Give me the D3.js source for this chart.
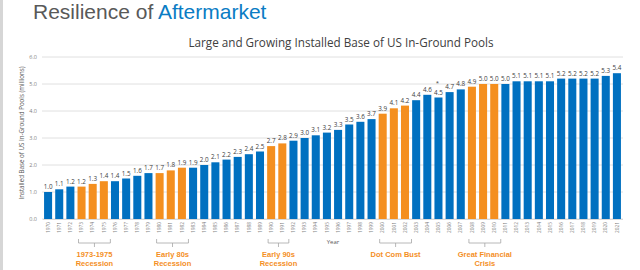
<!DOCTYPE html>
<html>
<head>
<meta charset="utf-8">
<script src="https://cdn.jsdelivr.net/npm/d3@7"></script>
<style>
  body { margin: 0; background: #fff; }
  svg { display: block; }
</style>
</head>
<body>
<script>
// Datos: base instalada de piscinas (millones)
const years = d3.range(1970, 2022).map(String);
const pools = [1.0, 1.1, 1.2, 1.2, 1.3, 1.4, 1.4, 1.5, 1.6, 1.7, 1.7, 1.8, 1.9, 1.9, 2.0, 2.1, 2.2, 2.3, 2.4, 2.5,
  2.7, 2.8, 2.9, 3.0, 3.1, 3.2, 3.3, 3.5, 3.6, 3.7, 3.9, 4.1, 4.2, 4.4, 4.6, 4.5, 4.7, 4.8, 4.9, 5.0,
  5.0, 5.0, 5.1, 5.1, 5.1, 5.1, 5.2, 5.2, 5.2, 5.2, 5.3, 5.4];
const recessionYears = ["1973", "1974", "1975", "1980", "1981", "1982", "1990", "1991", "2000", "2001", "2002", "2008", "2009", "2010"];
const recessions = [
  { from: "1973", to: "1975", lines: ["1973-1975", "Recession"] },
  { from: "1980", to: "1982", lines: ["Early 80s", "Recession"] },
  { from: "1990", to: "1991", lines: ["Early 90s", "Recession"] },
  { from: "2000", to: "2002", lines: ["Dot Com Bust"] },
  { from: "2008", to: "2010", lines: ["Great Financial", "Crisis"] },
];
const yTicks = [0, 1, 2, 3, 4, 5, 6];
const starYear = "2005";

const data = years.map((y, i) => ({ year: y, value: pools[i] }));

const width = 640;
const height = 270;
const blue = "#0070c0";
const orange = "#f48f1f";

const svg = d3.select("body").append("svg").attr("width", width).attr("height", height);

// franja gris a la izquierda
svg.append("rect").attr("x", 0).attr("y", 0).attr("width", 3).attr("height", height).attr("fill", "#d6d6d6");

// Título
const title = svg.append("text").attr("x", 33).attr("y", 19)
  .style("font-family", "'Liberation Sans', Arial, sans-serif").style("font-size", "21px");
title.append("tspan").attr("fill", "#595959").text("Resilience of ");
title.append("tspan").attr("fill", "#0a7cc4").text("Aftermarket");

svg.append("text").attr("x", 341).attr("y", 47).attr("text-anchor", "middle")
  .style("font-family", "'Open Sans', sans-serif").style("font-size", "11.7px").attr("fill", "#404040")
  .text("Large and Growing Installed Base of US In-Ground Pools");

const x = d3.scaleBand().domain(years).range([42.5, 622.5]).paddingInner(0.28).paddingOuter(0.14);
const y = d3.scaleLinear().domain([0, 6]).range([219, 57]);

// rejilla
svg.append("g").selectAll("line").data(yTicks).join("line")
  .attr("x1", 42).attr("x2", 623)
  .attr("y1", (d) => y(d)).attr("y2", (d) => y(d))
  .attr("stroke", "#e0e0e0").attr("stroke-width", 1);

const yAxis = svg.append("g").attr("transform", "translate(42,0)")
  .call(d3.axisLeft(y).tickValues(yTicks).tickFormat(d3.format(".1f")).tickSize(0).tickPadding(5));
yAxis.select(".domain").remove();
yAxis.selectAll("text").style("font-family", "'Open Sans', sans-serif").style("font-size", "5.5px").attr("fill", "#7f7f7f");

svg.append("text").attr("transform", "translate(24,133) rotate(-90)").attr("text-anchor", "middle")
  .style("font-family", "'Open Sans', sans-serif").style("font-size", "6.2px").attr("fill", "#595959")
  .text("Installed Base of US In-Ground Pools (millions)");

// barras
svg.append("g").selectAll("rect").data(data).join("rect")
  .attr("x", (d) => x(d.year))
  .attr("width", x.bandwidth())
  .attr("y", (d) => y(d.value))
  .attr("height", (d) => y(0) - y(d.value))
  .attr("fill", (d) => (recessionYears.includes(d.year) ? orange : blue));

// etiquetas de datos
svg.append("g").selectAll("text").data(data).join("text")
  .attr("x", (d) => x(d.year) + x.bandwidth() / 2)
  .attr("y", (d) => y(d.value) - 3)
  .attr("text-anchor", "middle")
  .style("font-family", "'Open Sans', sans-serif").style("font-size", "6.3px").attr("fill", "#404040")
  .text((d) => d.value.toFixed(1));

svg.append("text")
  .attr("x", x(starYear) + x.bandwidth() / 2 - 1).attr("y", y(pools[years.indexOf(starYear)]) - 12.5)
  .attr("text-anchor", "middle").style("font-family", "'Open Sans', sans-serif").style("font-size", "6px")
  .attr("fill", "#404040").text("*");

// eje x
const xAxis = svg.append("g").attr("transform", "translate(0,219)").call(d3.axisBottom(x).tickSize(0).tickPadding(0));
xAxis.select(".domain").attr("stroke", "#d9d9d9");
xAxis.selectAll("text")
  .attr("transform", "rotate(-90)").attr("x", -3).attr("y", 0).attr("dy", "0.35em")
  .attr("text-anchor", "end")
  .style("font-family", "'Open Sans', sans-serif").style("font-size", "4.8px").attr("fill", "#7f7f7f");

svg.append("text").attr("x", 333).attr("y", 244).attr("text-anchor", "middle")
  .style("font-family", "'Open Sans', sans-serif").style("font-size", "6px").attr("fill", "#595959").text("Year");

// corchetes de recesiones
const br = svg.append("g").selectAll("g").data(recessions).join("g");
br.append("path")
  .attr("d", (d) => {
    const x0 = x(d.from) + 1;
    const x1 = x(d.to) + x.bandwidth() + 2.5;
    const xm = (x0 + x1) / 2;
    return `M${x0},239V243H${x1}V239M${xm},243V247`;
  })
  .attr("fill", "none").attr("stroke", "#a6a6a6").attr("stroke-width", 0.8);
br.each(function (d) {
  const cx = (x(d.from) + 1 + x(d.to) + x.bandwidth() + 2.5) / 2;
  d3.select(this).selectAll("text").data(d.lines).join("text")
    .attr("x", cx).attr("y", (_, i) => 257 + i * 9)
    .attr("text-anchor", "middle")
    .style("font-family", "'Liberation Sans', Arial, sans-serif").style("font-size", "7.5px").style("font-weight", "bold")
    .attr("fill", orange).text((t) => t);
});
</script>
</body>
</html>
